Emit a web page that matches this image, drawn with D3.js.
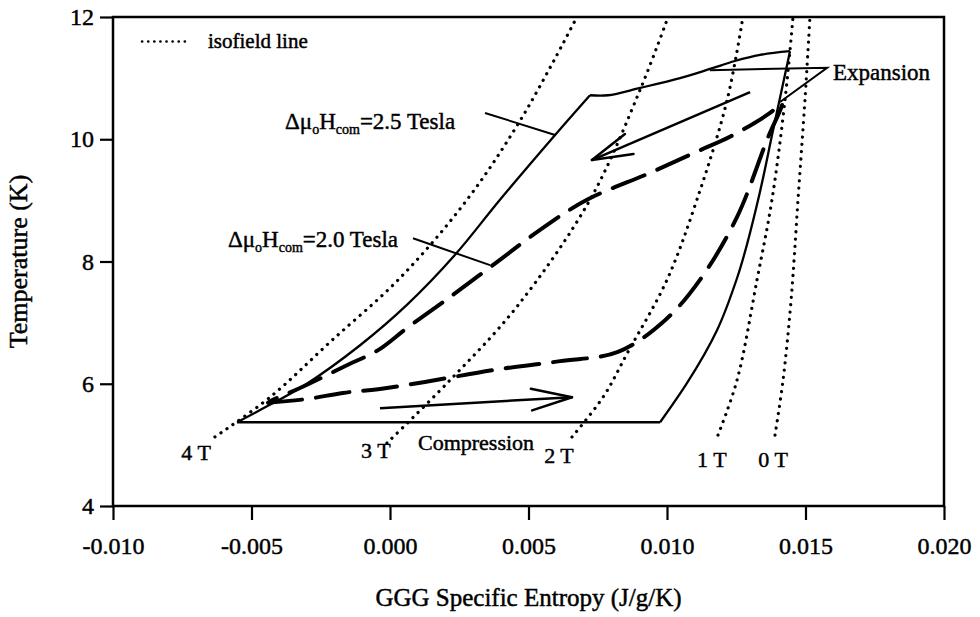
<!DOCTYPE html>
<html>
<head>
<meta charset="utf-8">
<script src="https://cdn.jsdelivr.net/npm/d3@7"></script>
<style>
  html, body { margin: 0; padding: 0; background: #fff; }
  svg { display: block; }
  text { font-family: "Liberation Serif", "Times New Roman", serif; fill: #000; stroke: #000; stroke-width: 0.45px; }
</style>
</head>
<body>
<svg id="chart" width="980" height="617"></svg>
<script>
// GGG magnetic refrigeration cycles in the T–S plane
// Axis ranges and ticks
const xTicks = [-0.010, -0.005, 0.000, 0.005, 0.010, 0.015, 0.020];
const yTicks = [4, 6, 8, 10, 12];

// Isofield lines: [entropy (J/g/K), temperature (K)]
const iso4T = [[-0.00632, 5.13], [-0.00433, 5.78], [-0.00217, 6.68], [0.00036, 7.73], [0.00278, 9.01], [0.00477, 10.36], [0.00675, 12.0]];
const iso3T = [[-0.00011, 5.03], [0.00217, 6.06], [0.00458, 7.26], [0.00722, 9.01], [0.00903, 10.81], [0.01004, 12.0]];
const iso2T = [[0.00657, 5.13], [0.00769, 5.78], [0.00859, 6.52], [0.01000, 7.70], [0.01108, 9.01], [0.01217, 10.64], [0.01274, 12.0]];
const iso1T = [[0.01184, 5.16], [0.01253, 6.06], [0.01325, 7.70], [0.01379, 9.01], [0.01426, 10.64], [0.01455, 12.0]];
const iso0T = [[0.01390, 5.16], [0.01419, 6.06], [0.01448, 7.37], [0.01473, 9.01], [0.01498, 10.64], [0.01516, 12.0]];
const isoLines = [iso4T, iso3T, iso2T, iso1T, iso0T];
const isoNames = ["4 T", "3 T", "2 T", "1 T", "0 T"];
const isoLabelS = [-0.00700, -0.00051, 0.00610, 0.01162, 0.01383];
const isoLabelT = [4.75, 4.79, 4.70, 4.64, 4.64];

// Cycle with 2.5 T field change (solid), drawn as its four legs
const cycle25Bottom = [[-0.00552, 5.37], [0.00975, 5.37]];
const cycle25Right = [[0.00975, 5.37], [0.01072, 6.01], [0.01181, 6.88], [0.01253, 7.73], [0.01329, 9.01], [0.01383, 10.15], [0.01444, 11.44]];
const cycle25Top = [[0.01444, 11.44], [0.01336, 11.38], [0.01245, 11.28], [0.01155, 11.15], [0.01047, 11.00], [0.00903, 10.84], [0.00787, 10.72], [0.00722, 10.72]];
const cycle25Left = [[0.00722, 10.72], [0.00596, 10.07], [0.00397, 9.01], [0.00235, 8.11], [0.00061, 7.29], [-0.00108, 6.63], [-0.00307, 5.98], [-0.00469, 5.57], [-0.00552, 5.37]];

// Cycle with 2.0 T field change (dashed)
const cycle20Bottom = [[-0.00440, 5.69], [-0.00300, 5.75], [-0.00170, 5.85], [-0.00043, 5.91], [0.00126, 6.03], [0.00397, 6.24], [0.00614, 6.37], [0.00823, 6.52]];
const cycle20Right = [[0.00823, 6.52], [0.00993, 7.04], [0.01119, 7.70], [0.01253, 8.73], [0.01361, 9.99], [0.01415, 10.59]];
const cycle20Upper = [[0.01415, 10.59], [0.01372, 10.43], [0.01227, 10.04], [0.01119, 9.82], [0.00939, 9.45], [0.00711, 9.01], [0.00552, 8.55], [0.00386, 7.99], [0.00217, 7.42], [0.00061, 6.91], [-0.00043, 6.55], [-0.00152, 6.31], [-0.00325, 5.93], [-0.00426, 5.73], [-0.00440, 5.69]];

// Direction arrows: [tail, tip]
const expansionArrow = [[0.01300, 10.77], [0.00729, 9.66]];
const compressionArrow = [[-0.00036, 5.60], [0.00657, 5.78]];

// Leader lines for annotations
const leader25 = [[0.00343, 10.43], [0.00596, 10.07]];
const leader20 = [[0.00083, 8.38], [0.00361, 7.94]];
const leaderExpansion = [[0.01155, 11.13], [0.01578, 11.17], [0.01408, 10.61]];

const svg = d3.select("#chart");
const margin = { left: 113, right: 36, top: 17, bottom: 111 };
const W = 980, H = 617;

const x = d3.scaleLinear().domain([-0.010, 0.020]).range([margin.left, W - margin.right]);
const y = d3.scaleLinear().domain([4, 12]).range([H - margin.bottom, margin.top]);

const line = d3.line().x(d => x(d[0])).y(d => y(d[1]));
const smooth = d3.line().x(d => x(d[0])).y(d => y(d[1])).curve(d3.curveCatmullRom.alpha(0.5));
const smoothY = d3.line().x(d => x(d[0])).y(d => y(d[1])).curve(d3.curveMonotoneY);

const plot = svg.append("g");

// Isofield lines (dotted)
isoLines.forEach(pts => {
  plot.append("path")
    .attr("d", smooth(pts))
    .attr("fill", "none")
    .attr("stroke", "#000")
    .attr("stroke-width", 3.2)
    .attr("stroke-linecap", "round")
    .attr("stroke-dasharray", "0.1 7.2");
});
isoNames.forEach((name, i) => {
  plot.append("text")
    .attr("x", x(isoLabelS[i]))
    .attr("y", y(isoLabelT[i]))
    .attr("text-anchor", "middle")
    .attr("font-size", 22)
    .text(name);
});

// 2.5 T cycle (solid)
[[cycle25Bottom, line], [cycle25Right, smoothY], [cycle25Top, smooth], [cycle25Left, smooth]].forEach(([pts, gen]) => {
  plot.append("path")
    .attr("d", gen(pts))
    .attr("fill", "none")
    .attr("stroke", "#000")
    .attr("stroke-width", 2.3)
    .attr("stroke-linejoin", "round");
});

// 2.0 T cycle (long dashes)
const dashedPath = [...cycle20Bottom, ...cycle20Right.slice(1), ...cycle20Upper.slice(1)];
plot.append("path")
  .attr("d", smooth(dashedPath))
  .attr("fill", "none")
  .attr("stroke", "#000")
  .attr("stroke-width", 4)
  .attr("stroke-linecap", "round")
  .attr("stroke-dasharray", "34 14");

// Arrows with open heads
function arrow(a) {
  const [t0, t1] = a;
  const x0 = x(t0[0]), y0 = y(t0[1]), x1 = x(t1[0]), y1 = y(t1[1]);
  plot.append("line")
    .attr("x1", x0).attr("y1", y0).attr("x2", x1).attr("y2", y1)
    .attr("stroke", "#000").attr("stroke-width", 2.5);
  const ang = Math.atan2(y0 - y1, x0 - x1);
  const len = 42, spread = 15 * Math.PI / 180;
  [-spread, spread].forEach(s => {
    plot.append("line")
      .attr("x1", x1).attr("y1", y1)
      .attr("x2", x1 + len * Math.cos(ang + s))
      .attr("y2", y1 + len * Math.sin(ang + s))
      .attr("stroke", "#000").attr("stroke-width", 2.5)
      .attr("stroke-linecap", "round");
  });
}
arrow(expansionArrow);
arrow(compressionArrow);

// Leader lines
[leader25, leader20, leaderExpansion].forEach(pts => {
  plot.append("path")
    .attr("d", line(pts))
    .attr("fill", "none")
    .attr("stroke", "#000")
    .attr("stroke-width", 2);
});

// Annotations
function fieldLabel(s, T, val) {
  const t = plot.append("text").attr("x", x(s)).attr("y", y(T)).attr("font-size", 23);
  t.append("tspan").text("\u0394\u03bc");
  t.append("tspan").attr("font-size", 14).attr("dy", 5).text("o");
  t.append("tspan").attr("dy", -5).text("H");
  t.append("tspan").attr("font-size", 14).attr("dy", 5).text("com");
  t.append("tspan").attr("dy", -5).text("=" + val + " Tesla");
}
fieldLabel(-0.00379, 10.17, "2.5");
fieldLabel(-0.00585, 8.24, "2.0");

plot.append("text").attr("x", x(0.01599)).attr("y", y(10.97)).attr("font-size", 23).text("Expansion");
plot.append("text").attr("x", x(0.00101)).attr("y", y(4.92)).attr("font-size", 22).text("Compression");

// Legend
const legendS = [-0.00895, -0.00722];
const legendT = 11.6;
plot.append("line")
  .attr("x1", x(legendS[0])).attr("x2", x(legendS[1]))
  .attr("y1", y(legendT)).attr("y2", y(legendT))
  .attr("stroke", "#000").attr("stroke-width", 2.6)
  .attr("stroke-linecap", "round").attr("stroke-dasharray", "0.1 6");
plot.append("text")
  .attr("x", x(legendS[1]) + 18).attr("y", y(legendT) + 7)
  .attr("font-size", 21)
  .text("isofield line");

// Frame
const frame = svg.append("g");
frame.append("rect")
  .attr("x", margin.left).attr("y", margin.top)
  .attr("width", W - margin.left - margin.right)
  .attr("height", H - margin.top - margin.bottom)
  .attr("fill", "none").attr("stroke", "#000").attr("stroke-width", 2.5);

// Axes
const xAxis = d3.axisBottom(x).tickValues(xTicks).tickSize(14).tickPadding(17).tickFormat(d3.format(".3f"));
const yAxis = d3.axisLeft(y).tickValues(yTicks).tickSize(13).tickPadding(6).tickFormat(d3.format("d"));

const gx = svg.append("g").attr("transform", `translate(0,${H - margin.bottom})`).call(xAxis);
const gy = svg.append("g").attr("transform", `translate(${margin.left},0)`).call(yAxis);
[gx, gy].forEach(g => {
  g.select(".domain").remove();
  g.selectAll(".tick line").attr("stroke", "#000").attr("stroke-width", 2.2);
  g.selectAll(".tick text").attr("font-size", 24).attr("font-family", "Liberation Serif, serif").attr("fill", "#000");
});
gx.selectAll(".tick text").text(d => d3.format(".3f")(d).replace("\u2212", "-"));

svg.append("text")
  .attr("x", x(0.005)).attr("y", 606)
  .attr("text-anchor", "middle")
  .attr("font-size", 25)
  .text("GGG Specific Entropy (J/g/K)");

svg.append("text")
  .attr("transform", `translate(27,${y(8)}) rotate(-90)`)
  .attr("text-anchor", "middle")
  .attr("font-size", 26)
  .text("Temperature (K)");
</script>
</body>
</html>
